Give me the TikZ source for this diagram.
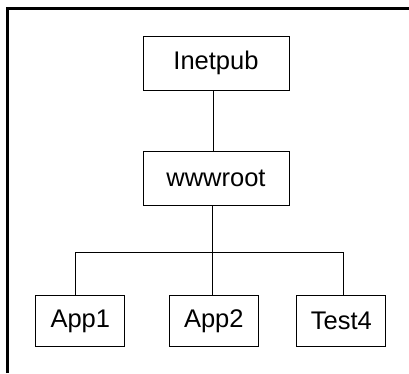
\documentclass[tikz,border=0pt]{standalone}
\usepackage{fontspec}
\setmainfont{Liberation Sans}
\begin{document}
\begin{tikzpicture}[x=1pt,y=-1pt,
  box/.style={draw=black,line width=1pt,rectangle,inner sep=0pt,
    font=\fontsize{25.5}{30}\selectfont},
  topbox/.style={box,minimum width=146pt,minimum height=53.5pt},
  leafbox/.style={box,minimum width=89.3pt,minimum height=50.7pt},
  conn/.style={draw=black,line width=1pt}]
\useasboundingbox (0,0) rectangle (409,373);
\draw[line width=2.5pt] (7.5,373) -- (7.5,8.5) -- (409,8.5);
\node[topbox] (inet) at (216,63.3) {Inetpub};
\node[topbox] (www) at (216,178.7) {wwwroot};
\node[leafbox] (a1) at (80.3,321.3) {App1};
\node[leafbox] (a2) at (213.8,321.3) {App2};
\node[leafbox] (t4) at (341.3,321.3) {Test4};
\coordinate (bl) at (75.3,252.5);
\coordinate (br) at (343,252.5);
\draw[conn] ([xshift=-2.7pt]inet.south) -- ([xshift=-2.7pt]www.north);
\draw[conn] ([xshift=-3.7pt]www.south) -- ([xshift=-1.5pt]a2.north);
\draw[conn] ([xshift=-5pt]a1.north) -- (bl) -- (br) -- (br |- t4.north);
\end{tikzpicture}
\end{document}
